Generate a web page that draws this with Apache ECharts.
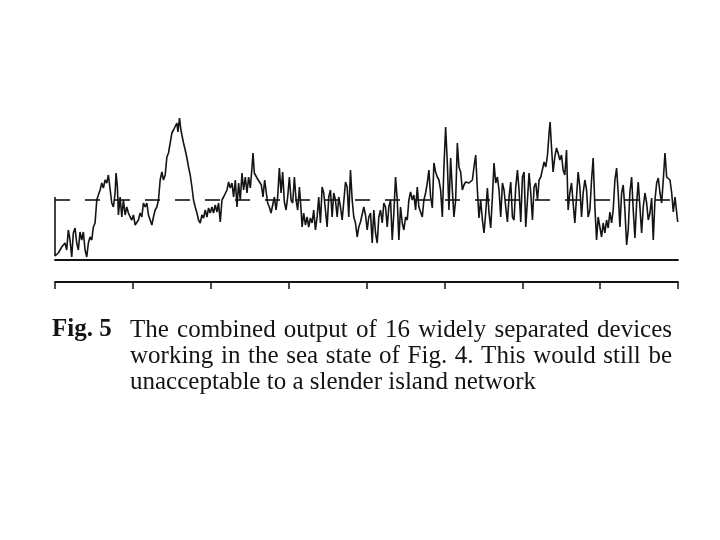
<!DOCTYPE html>
<html>
<head>
<meta charset="utf-8">
<script src="https://cdn.jsdelivr.net/npm/echarts@6/dist/echarts.min.js"></script>
<style>
  html, body { margin: 0; background: #fff; }
  #chart { width: 720px; height: 540px; }
</style>
</head>
<body>
<div id="chart"></div>
<script>
// combined output trace (time in arbitrary units, output in arbitrary units)
const time = [
  0, 0, 0.7, 3.3, 5, 6.7, 8.3, 10, 11.7, 13.3,
  15, 16.7, 18.3, 20, 21.7, 23.3, 25, 26.7, 28.3, 30,
  31.7, 33.3, 35, 36.7, 38.3, 40, 41.7, 43.3, 45, 46.7,
  48.3, 50, 51.7, 53.3, 55, 56.7, 58.3, 60, 61, 62.3,
  63.3, 65, 66.7, 68.3, 70, 71.7, 73.3, 75, 76.7, 78.3,
  80, 81.7, 83.3, 85, 86.7, 88.3, 90, 91.7, 93.3, 95,
  96.7, 98.3, 100, 101.7, 103.3, 105, 106.7, 108.3, 110, 111.7,
  113.3, 115, 116.7, 118.3, 120, 121.7, 122.7, 124.3, 125.7, 126.7,
  128.3, 130, 131.7, 133.3, 135, 136.7, 138.3, 140, 141.7, 143.3,
  145, 146.7, 148.3, 150, 151.7, 153.3, 155, 156.7, 158.3, 160,
  161.7, 163.3, 165, 166.7, 168.3, 170, 171.7, 173.3, 175, 176.7,
  178.3, 180, 181.7, 183.3, 185, 186.7, 188.3, 190, 191.7, 193.3,
  195, 196.7, 197.7, 199, 200, 201.7, 203.3, 206, 207.7, 209.3,
  210.7, 212.3, 214, 215.7, 217.3, 219, 220.7, 222.3, 224, 225.7,
  227.3, 229, 230.7, 232.3, 234, 235.7, 237.3, 239, 240.7, 242.3,
  244, 245.7, 246.7, 248.3, 250, 251.7, 253.3, 255, 256.7, 258.3,
  260, 261.7, 263.3, 265, 266.7, 268.3, 270, 271.7, 273.3, 275,
  276.7, 278.3, 280, 281.7, 283.3, 285, 286.7, 288.3, 290, 291.7,
  293.3, 295, 296.7, 298.3, 300, 301.7, 303.3, 305, 306.7, 308.3,
  310, 311.7, 313.3, 315, 316.7, 318.3, 320, 321.7, 323.3, 325,
  326.7, 328.3, 330, 331.7, 333.3, 335, 336.7, 338.3, 340, 341.7,
  343.3, 345, 346.7, 348.3, 350, 351.7, 353.3, 355, 356.7, 358.3,
  360, 361.7, 363.3, 365, 366.7, 368.3, 370, 371.7, 373.3, 375,
  376.7, 378.3, 380, 381.7, 383.3, 385, 386.7, 388.3, 390, 391.7,
  393.3, 395, 396.7, 398.3, 400, 401.7, 403.3, 405, 406.7, 408.3,
  410, 411.7, 413.3, 415, 416.7, 418.3, 420, 421.7, 423.3, 425,
  426.7, 428.3, 430, 431.7, 433.3, 435, 436.7, 438.3, 440, 441.7,
  443.3, 445, 446.7, 448.3, 450, 451.7, 453.3, 455, 456.7, 458.3,
  460, 461.7, 463.3, 465, 466.7, 468.3, 470, 471.7, 473.3, 475,
  476.7, 478.3, 480, 481.7, 483.3, 485, 486.7, 488.3, 490, 491.7,
  493.3, 494.3, 495.7, 497.3, 499, 500.7, 502.3, 504, 505.7, 507.3,
  509, 510.7, 512.3, 514, 515.7, 517.3, 519, 520.7, 522.3, 524,
  525.7, 527.3, 529, 530.7, 532.3, 534, 535.7, 537.3, 539, 540.7,
  542.3, 544, 545.7, 547.3, 549, 550.7, 552.3, 554, 555.7, 557.3,
  559, 560.7, 562.3, 564, 565.7, 567.3, 569, 570.7, 572.3, 574,
  575.7, 577.3, 579, 580.7, 582.3, 584, 585.7, 587.3, 589, 590.7,
  592.3, 594, 595.7, 597.3, 599, 600.7, 602.3, 604, 605.7, 607.3,
  609, 610.7, 612.3, 614, 615.7, 617.3, 619, 620.7, 621.7
];
const power = [
  63, 4, 5, 7, 6, 13, 11, 17, 10, 30,
  20, 3, 27, 32, 17, 10, 28, 20, 28, 10,
  3, 17, 23, 20, 33, 37, 60, 65, 70, 77,
  72, 80, 77, 85, 83, 57, 53, 67, 87, 73,
  45, 63, 43, 60, 45, 53, 47, 43, 40, 45,
  35, 33, 40, 47, 43, 57, 53, 57, 45, 40,
  35, 43, 50, 53, 60, 80, 88, 80, 85, 103,
  107, 117, 127, 130, 132, 137, 128, 142, 130, 125,
  117, 110, 102, 93, 85, 73, 60, 53, 47, 40,
  37, 45, 42, 50, 43, 52, 47, 53, 47, 55,
  48, 57, 38, 60, 63, 63, 70, 78, 72, 77,
  63, 80, 53, 77, 60, 87, 70, 83, 67, 83,
  72, 93, 107, 87, 88, 82, 80, 75, 63, 80,
  82, 57, 53, 47, 45, 63, 50, 63, 92, 67,
  88, 58, 50, 63, 83, 60, 57, 83, 60, 50,
  73, 50, 33, 47, 35, 43, 33, 42, 37, 50,
  30, 43, 63, 37, 73, 67, 50, 33, 63, 70,
  43, 67, 60, 43, 63, 53, 40, 58, 78, 73,
  43, 90, 60, 43, 37, 23, 33, 38, 40, 53,
  45, 30, 43, 47, 17, 50, 27, 17, 43, 50,
  37, 57, 53, 33, 53, 60, 20, 47, 83, 60,
  20, 53, 37, 30, 43, 40, 60, 68, 60, 65,
  50, 73, 53, 53, 43, 60, 67, 77, 90, 63,
  52, 97, 88, 83, 80, 70, 43, 93, 133, 97,
  50, 102, 70, 43, 60, 117, 93, 88, 70, 75,
  78, 78, 77, 78, 80, 93, 105, 70, 42, 60,
  40, 27, 47, 72, 47, 32, 63, 97, 77, 83,
  70, 43, 77, 70, 53, 38, 63, 78, 43, 40,
  73, 90, 70, 38, 83, 88, 33, 60, 87, 67,
  40, 73, 77, 60, 80, 83, 85, 98, 93, 105,
  127, 138, 113, 88, 103, 112, 107, 100, 105, 90,
  85, 110, 50, 67, 77, 57, 37, 63, 88, 73,
  43, 67, 80, 70, 43, 50, 80, 102, 53, 20,
  43, 33, 23, 37, 27, 40, 32, 48, 37, 50,
  80, 92, 67, 33, 67, 75, 50, 15, 30, 68,
  83, 50, 22, 57, 78, 53, 27, 53, 67, 57,
  40, 47, 62, 20, 60, 77, 82, 67, 57, 80,
  107, 83, 83, 80, 67, 48, 63, 65, 38
];
const meanLevel = 60;        // dashed line: average output
const timeSpan = 622;        // length of the record
const scaleDivisions = 8;    // ticks on the time scale under the trace
const outputMax = 160;

const captionLabel = 'Fig. 5';
const captionLines = [
  'The combined output of 16 widely separated devices',
  'working in the sea state of Fig. 4. This would still be',
  'unacceptable to a slender island network'
];

const INK = '#141414';
const FONT = '"Liberation Serif", "DejaVu Serif", serif';
const FONT_SIZE = 25;
const TEXT_LEFT = 130, TEXT_RIGHT = 672, LINE_Y0 = 330, LINE_STEP = 26;

// lay caption words out justified, like the printed page
const measure = document.createElement('canvas').getContext('2d');
measure.font = FONT_SIZE + 'px ' + FONT;
function captionWords(text, y, justify) {
  const words = text.split(' ');
  const widths = words.map(w => measure.measureText(w).width);
  const total = widths.reduce((a, b) => a + b, 0);
  const gap = justify ? (TEXT_RIGHT - TEXT_LEFT - total) / (words.length - 1) : measure.measureText(' ').width;
  let x = TEXT_LEFT;
  return words.map((w, i) => {
    const el = {
      type: 'text', x: x, y: y, silent: true,
      style: { text: w, fontFamily: FONT, fontSize: FONT_SIZE, fill: INK, verticalAlign: 'middle' }
    };
    x += widths[i] + gap;
    return el;
  });
}

const graphics = [{
  type: 'text', x: 52, y: LINE_Y0, silent: true,
  style: { text: captionLabel, fontFamily: FONT, fontSize: FONT_SIZE, fontWeight: 'bold', fill: INK, verticalAlign: 'middle' }
}];
captionLines.forEach((line, i) => {
  graphics.push(...captionWords(line, LINE_Y0 + i * LINE_STEP, i < captionLines.length - 1));
});

const chart = echarts.init(document.getElementById('chart'), null, { renderer: 'canvas' });
chart.setOption({
  animation: false,
  backgroundColor: '#fff',
  grid: { left: 55, right: 42, top: 100, bottom: 280 },
  xAxis: [
    {
      // baseline under the trace
      type: 'value', min: 0, max: timeSpan,
      axisLine: { show: true, onZero: false, lineStyle: { color: INK, width: 1.8 } },
      axisTick: { show: false }, axisLabel: { show: false }, splitLine: { show: false }
    },
    {
      // time scale below
      type: 'value', min: 0, max: timeSpan, interval: timeSpan / scaleDivisions,
      position: 'bottom', offset: 22,
      axisLine: { show: true, onZero: false, lineStyle: { color: INK, width: 1.8 } },
      axisTick: { show: true, inside: false, length: 7, lineStyle: { color: INK, width: 1.5 } },
      axisLabel: { show: false }, splitLine: { show: false }
    }
  ],
  yAxis: { type: 'value', min: 0, max: outputMax, show: false },
  series: [{
    type: 'line',
    xAxisIndex: 0,
    data: time.map((t, i) => [t, power[i]]),
    showSymbol: false,
    lineStyle: { color: INK, width: 1.6 },
    silent: true,
    markLine: {
      silent: true, symbol: 'none', label: { show: false },
      lineStyle: { color: INK, width: 1.6, type: [15, 15] },
      data: [{ yAxis: meanLevel }]
    }
  }],
  graphic: graphics
});
</script>
</body>
</html>
